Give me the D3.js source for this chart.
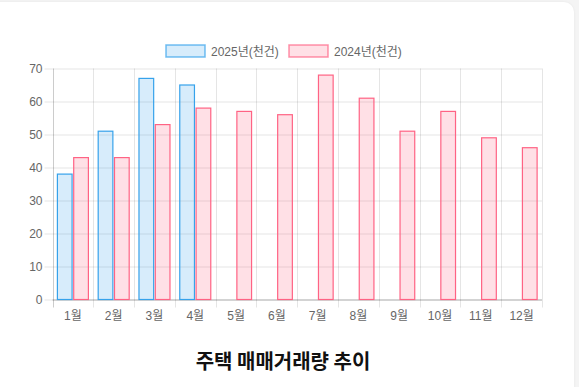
<!DOCTYPE html>
<html>
<head>
<meta charset="utf-8">
<script src="https://cdn.jsdelivr.net/npm/d3@7"></script>
<style>
  html, body { margin: 0; padding: 0; background: #f4f4f4; }
  body { width: 579px; height: 387px; overflow: hidden; position: relative; }
  .card {
    position: absolute; left: -20px; top: 2px; width: 594px; height: 400px;
    background: #fff; border-radius: 10px; box-shadow: 0 0 3px rgba(0,0,0,0.06);
  }
  svg { position: absolute; left: 0; top: 0; }
  .tick text { font-family: "Liberation Sans", Arial, "Noto Sans CJK KR", sans-serif; font-size: 12px; fill: #666; }
</style>
</head>
<body>
<div class="card"></div>
<svg id="chart" width="579" height="387"></svg>
<script>
"use strict";

const months = ["1월", "2월", "3월", "4월", "5월", "6월", "7월", "8월", "9월", "10월", "11월", "12월"];
const sales2025 = [38, 51, 67, 65];
const sales2024 = [43, 43, 53, 58, 57, 56, 68, 61, 51, 57, 49, 46];
const seriesNames = ["2025년(천건)", "2024년(천건)"];
const yTicks = [0, 10, 20, 30, 40, 50, 60, 70];
const chartTitle = "주택 매매거래량 추이";

const COLORS = [
  { stroke: "rgb(54,162,235)", fill: "rgba(54,162,235,0.2)" },
  { stroke: "rgb(255,99,132)", fill: "rgba(255,99,132,0.2)" },
];
const FONT = '"Liberation Sans", Arial, "Noto Sans CJK KR", sans-serif';

function _main() {
  const svg = d3.select("#chart");
  const left = 52.5, right = 542, top = 68.5, bottom = 299.5;

  const xScale = d3.scaleBand().domain(months).range([left, right]);
  const yScale = d3.scaleLinear().domain([0, 70]).range([bottom, top]);
  const inner = d3.scaleBand().domain([0, 1]).range([0, xScale.bandwidth() * 0.8]);

  addGrid(svg, xScale, yScale, left, right, top, bottom);

  const series = [sales2025, sales2024];
  series.forEach((values, si) => {
    const barW = inner.bandwidth() * 0.9;
    svg.append("g")
      .selectAll("rect")
      .data(values.map((v, i) => ({ m: months[i], v })))
      .enter()
      .append("rect")
      .attr("x", (d) => xScale(d.m) + xScale.bandwidth() * 0.1 + inner(si) + (inner.bandwidth() - barW) / 2)
      .attr("y", (d) => yScale(d.v))
      .attr("width", barW)
      .attr("height", (d) => yScale(0) - yScale(d.v))
      .attr("fill", COLORS[si].fill)
      .attr("stroke", COLORS[si].stroke)
      .attr("stroke-width", 1.2);
  });

  addLegend(svg);

  svg.append("text")
    .attr("x", 283)
    .attr("y", 369)
    .attr("text-anchor", "middle")
    .attr("font-family", '"Noto Sans CJK KR", sans-serif')
    .attr("font-weight", "bold")
    .attr("font-size", 20)
    .attr("fill", "#111")
    .text(chartTitle);
}

function addGrid(svg, xScale, yScale, left, right, top, bottom) {
  // horizontal grid with left ticks
  const yAxis = svg.append("g")
    .attr("transform", `translate(${left},0)`)
    .call(d3.axisLeft(yScale).tickValues(yTicks).tickSize(8).tickPadding(2));
  yAxis.select(".domain").remove();
  yAxis.selectAll(".tick line").attr("stroke", "rgba(0,0,0,0.1)");
  yAxis.selectAll(".tick")
    .append("line")
    .attr("x1", 0)
    .attr("x2", right - left)
    .attr("stroke", (d) => (d === 0 ? "rgba(0,0,0,0.35)" : "rgba(0,0,0,0.1)"));

  // vertical grid at category edges with bottom ticks
  const edges = months.map((m) => xScale(m)).concat([right]);
  svg.append("g")
    .selectAll("line")
    .data(edges)
    .enter()
    .append("line")
    .attr("x1", (d) => Math.round(d) + 0.5)
    .attr("x2", (d) => Math.round(d) + 0.5)
    .attr("y1", top)
    .attr("y2", bottom + 8)
    .attr("stroke", (d, i) => (i === 0 ? "rgba(0,0,0,0.2)" : "rgba(0,0,0,0.1)"));

  const xAxis = svg.append("g")
    .attr("transform", `translate(0,${bottom})`)
    .call(d3.axisBottom(xScale).tickSize(0).tickPadding(12));
  xAxis.select(".domain").remove();
}

function addLegend(svg) {
  const items = [{ x: 166, i: 0 }, { x: 289, i: 1 }];
  items.forEach((it) => {
    svg.append("rect")
      .attr("x", it.x)
      .attr("y", 45)
      .attr("width", 39)
      .attr("height", 12)
      .attr("fill", COLORS[it.i].fill)
      .attr("stroke", COLORS[it.i].stroke)
      .attr("stroke-opacity", 0.7)
      .attr("stroke-width", 1.5);
    svg.append("text")
      .attr("x", it.x + 45)
      .attr("y", 55.5)
      .attr("font-family", FONT)
      .attr("font-size", 12)
      .attr("fill", "#666")
      .text(seriesNames[it.i]);
  });
}

_main();
</script>
</body>
</html>
